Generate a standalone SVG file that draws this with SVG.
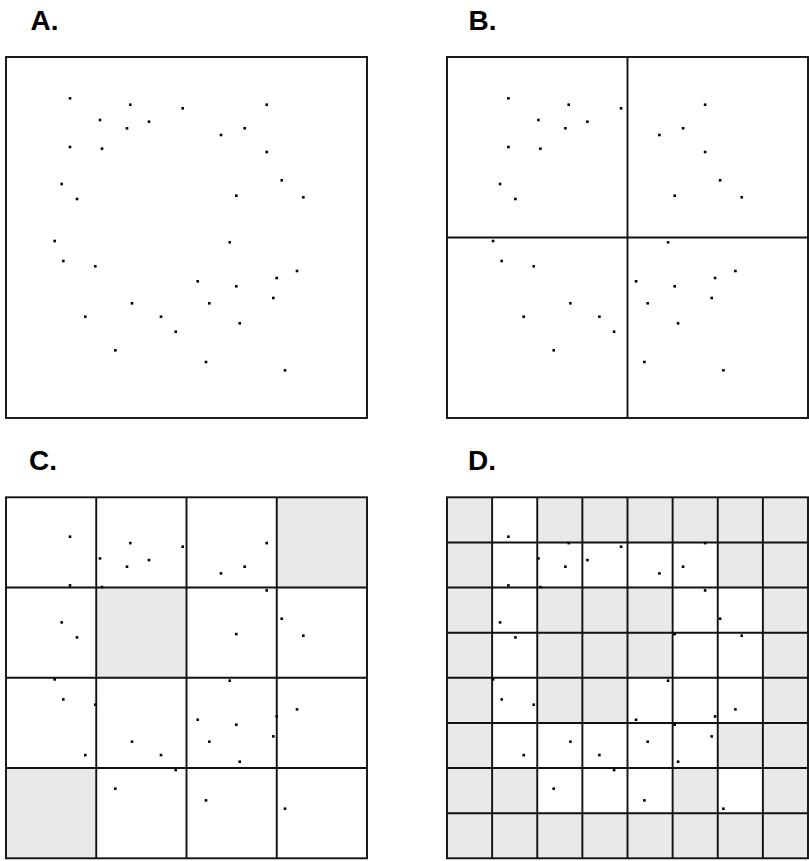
<svg xmlns="http://www.w3.org/2000/svg" xmlns:xlink="http://www.w3.org/1999/xlink" width="809" height="861" viewBox="0 0 809 861">
<style>
.lbl{font-family:"Liberation Sans",Arial,sans-serif;font-weight:bold;font-size:28px;fill:#000}
.frame{fill:none;stroke:#111;stroke-width:1.9}
.grid{fill:none;stroke:#111;stroke-width:1.9}
.dot{fill:#000}
.shade{fill:#e9e9e9}
.wc{fill:#fff}
</style>
<defs>
<g id="dots" class="dot" transform="translate(-0.2 -0.2)">
<rect x="68.9" y="97.2" width="2.6" height="2.6"/>
<rect x="129.2" y="103.6" width="2.6" height="2.6"/>
<rect x="181.6" y="107.2" width="2.6" height="2.6"/>
<rect x="98.9" y="118.9" width="2.6" height="2.6"/>
<rect x="147.9" y="120.6" width="2.6" height="2.6"/>
<rect x="125.9" y="127.2" width="2.6" height="2.6"/>
<rect x="68.9" y="145.9" width="2.6" height="2.6"/>
<rect x="100.9" y="147.6" width="2.6" height="2.6"/>
<rect x="60.6" y="182.9" width="2.6" height="2.6"/>
<rect x="75.9" y="197.9" width="2.6" height="2.6"/>
<rect x="265.6" y="103.6" width="2.6" height="2.6"/>
<rect x="243.6" y="127.2" width="2.6" height="2.6"/>
<rect x="219.9" y="133.9" width="2.6" height="2.6"/>
<rect x="265.6" y="150.9" width="2.6" height="2.6"/>
<rect x="280.6" y="179.2" width="2.6" height="2.6"/>
<rect x="235.2" y="194.6" width="2.6" height="2.6"/>
<rect x="302.2" y="196.2" width="2.6" height="2.6"/>
<rect x="53.6" y="239.9" width="2.6" height="2.6"/>
<rect x="62.2" y="259.9" width="2.6" height="2.6"/>
<rect x="94.2" y="265.2" width="2.6" height="2.6"/>
<rect x="130.9" y="302.2" width="2.6" height="2.6"/>
<rect x="84.2" y="315.6" width="2.6" height="2.6"/>
<rect x="159.9" y="315.6" width="2.6" height="2.6"/>
<rect x="174.6" y="330.6" width="2.6" height="2.6"/>
<rect x="114.2" y="349.2" width="2.6" height="2.6"/>
<rect x="228.6" y="241.2" width="2.6" height="2.6"/>
<rect x="295.9" y="269.9" width="2.6" height="2.6"/>
<rect x="275.6" y="276.9" width="2.6" height="2.6"/>
<rect x="196.6" y="280.2" width="2.6" height="2.6"/>
<rect x="235.2" y="285.2" width="2.6" height="2.6"/>
<rect x="272.2" y="296.9" width="2.6" height="2.6"/>
<rect x="208.2" y="302.2" width="2.6" height="2.6"/>
<rect x="238.6" y="322.2" width="2.6" height="2.6"/>
<rect x="204.9" y="360.9" width="2.6" height="2.6"/>
<rect x="283.9" y="369.2" width="2.6" height="2.6"/>
</g>
</defs>

<g id="panelA">
<text class="lbl" x="30.5" y="29.5">A.</text>
<rect class="frame" x="6" y="57" width="361" height="361"/>
<use xlink:href="#dots" href="#dots"/>
</g>

<g id="panelB">
<text class="lbl" x="468.5" y="29.5">B.</text>
<rect class="frame" x="447" y="57" width="361" height="361"/>
<path class="grid" d="M627.5 57V418M447 237.5H808"/>
<use xlink:href="#dots" href="#dots" transform="translate(438.4 0)"/>
</g>

<g id="panelC">
<text class="lbl" x="29" y="469.5">C.</text>
<rect x="276.75" y="497.3" width="90.25" height="90.25" class="shade"/>
<rect x="96.25" y="587.55" width="90.25" height="90.25" class="shade"/>
<rect x="6" y="768.05" width="90.25" height="90.25" class="shade"/>
<path class="grid" d="M96.25 497.3V858.3M186.5 497.3V858.3M276.75 497.3V858.3M6 587.55H367M6 677.8H367M6 768.05H367"/>
<rect class="frame" x="6" y="497.3" width="361" height="361"/>
<use xlink:href="#dots" href="#dots" transform="translate(0 438.4)"/>
</g>

<g id="panelD">
<text class="lbl" x="468" y="469.5">D.</text>
<rect x="447" y="497.3" width="361" height="361" class="shade"/>
<g class="wc">
<rect x="492.125" y="497.3" width="45.125" height="45.125"/>
<rect x="492.125" y="542.425" width="225.625" height="45.125"/>
<rect x="492.125" y="587.55" width="45.125" height="90.25"/>
<rect x="672.625" y="587.55" width="90.25" height="90.25"/>
<rect x="492.125" y="677.8" width="45.125" height="45.125"/>
<rect x="627.5" y="677.8" width="135.375" height="45.125"/>
<rect x="492.125" y="722.925" width="225.625" height="45.125"/>
<rect x="537.25" y="768.05" width="135.375" height="45.125"/>
<rect x="717.75" y="768.05" width="45.125" height="45.125"/>
</g>
<path class="grid" d="M492.125 497.3V858.3M537.25 497.3V858.3M582.375 497.3V858.3M627.5 497.3V858.3M672.625 497.3V858.3M717.75 497.3V858.3M762.875 497.3V858.3M447 542.425H808M447 587.55H808M447 632.675H808M447 677.8H808M447 722.925H808M447 768.05H808M447 813.175H808"/>
<rect class="frame" x="447" y="497.3" width="361" height="361"/>
<use xlink:href="#dots" href="#dots" transform="translate(438.4 438.4)"/>
</g>
</svg>
